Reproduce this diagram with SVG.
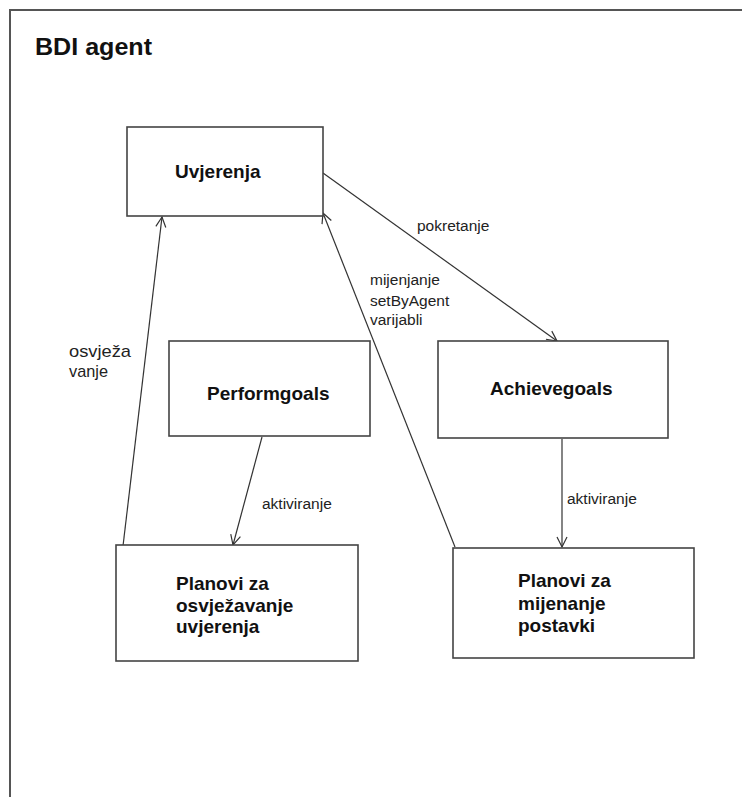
<svg xmlns="http://www.w3.org/2000/svg" width="742" height="797" viewBox="0 0 742 797">
  <defs>
    <style>
      .frame { fill: none; stroke: #555; stroke-width: 2; }
      .box { fill: #fff; stroke: #444; stroke-width: 1.6; }
      .title { font-family: "Liberation Sans", Arial, sans-serif; font-weight: bold; font-size: 24px; fill: #111; }
      .name { font-family: "Liberation Sans", Arial, sans-serif; font-weight: bold; font-size: 19px; fill: #111; }
      .lbl { font-family: "Liberation Sans", Arial, sans-serif; font-size: 15.5px; fill: #222; }
      .edge { fill: none; stroke: #333; stroke-width: 1.2; }
    </style>
    <marker id="open" viewBox="-12 -6 14 12" refX="0" refY="0" markerWidth="14" markerHeight="12" markerUnits="userSpaceOnUse" orient="auto">
      <path d="M-10,-5 L0,0 L-10,5" fill="none" stroke="#333" stroke-width="1.2"/>
    </marker>
  </defs>

  <rect width="742" height="797" fill="#fff"/>
  <path class="frame" d="M10,797 L10,10 L742,10"/>
  <text class="title" x="35" y="55" textLength="117" lengthAdjust="spacingAndGlyphs">BDI agent</text>

  <g id="connectors">
    <line class="edge" x1="323" y1="173" x2="557" y2="341" marker-end="url(#open)"/>
    <line class="edge" x1="455" y1="547" x2="323" y2="213" marker-end="url(#open)"/>
    <line class="edge" x1="123" y1="546" x2="162" y2="217" marker-end="url(#open)"/>
    <line class="edge" x1="262" y1="437" x2="233" y2="545" marker-end="url(#open)"/>
    <line class="edge" x1="562" y1="439" x2="562" y2="547" marker-end="url(#open)"/>
    <text class="lbl" x="417" y="231">pokretanje</text>
    <text class="lbl" x="370" y="285">mijenjanje</text>
    <text class="lbl" x="370" y="305.5">setByAgent</text>
    <text class="lbl" x="370" y="324.5">varijabli</text>
    <text class="lbl" x="69" y="357" style="font-size:17px" textLength="62" lengthAdjust="spacingAndGlyphs">osvježa</text>
    <text class="lbl" x="69" y="377" style="font-size:17px" textLength="39" lengthAdjust="spacingAndGlyphs">vanje</text>
    <text class="lbl" x="262" y="509">aktiviranje</text>
    <text class="lbl" x="567" y="504">aktiviranje</text>
  </g>

  <g id="uvjerenja">
    <rect class="box" x="127" y="127" width="196" height="89"/>
    <text class="name" x="175" y="178">Uvjerenja</text>
  </g>

  <g id="performgoals">
    <rect class="box" x="169" y="341" width="201" height="95"/>
    <text class="name" x="207" y="400">Performgoals</text>
  </g>

  <g id="achievegoals">
    <rect class="box" x="438" y="341" width="230" height="97"/>
    <text class="name" x="490" y="395">Achievegoals</text>
  </g>

  <g id="planovi-osvjezavanje">
    <rect class="box" x="116" y="545" width="242" height="116"/>
    <text class="name" x="176" y="590">Planovi za</text>
    <text class="name" x="176" y="612">osvježavanje</text>
    <text class="name" x="176" y="633">uvjerenja</text>
  </g>

  <g id="planovi-mijenanje">
    <rect class="box" x="453" y="548" width="241" height="110"/>
    <text class="name" x="518" y="587">Planovi za</text>
    <text class="name" x="518" y="610">mijenanje</text>
    <text class="name" x="518" y="632">postavki</text>
  </g>
</svg>
